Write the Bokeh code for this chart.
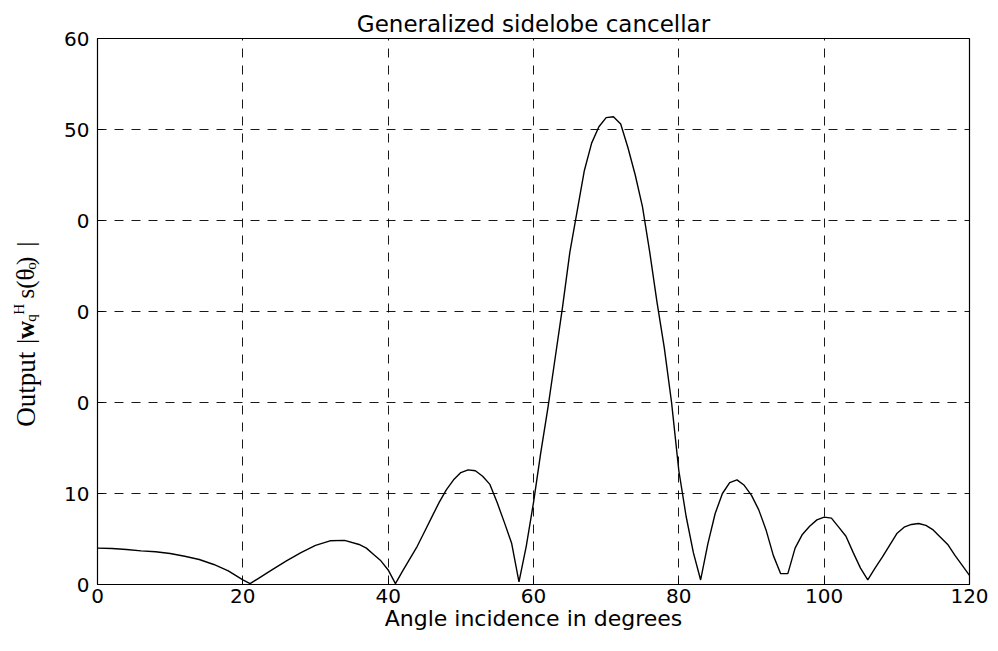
import math
from bokeh.plotting import figure
from bokeh.layouts import row
from bokeh.models import Label, FixedTicker, Range1d
from bokeh.embed import file_html
from bokeh.resources import INLINE

# ---- data ----
angle_deg = [0, 2, 4, 6, 8, 10, 12, 14, 16, 18, 19, 20, 21, 22, 24, 26, 28, 30,
             32, 34, 36, 37, 38, 39, 40, 41, 42, 44, 45, 46, 47, 48, 49, 50, 51,
             52, 53, 54, 55, 56, 57, 58, 59, 60, 61, 62, 63, 64, 65, 66, 67, 68,
             69, 70, 71, 72, 73, 74, 75, 76, 77, 78, 79, 80, 81, 82, 83, 84, 85,
             86, 87, 88, 89, 90, 91, 92, 93, 94, 95, 96, 97, 98, 99, 100, 101,
             102, 103, 104, 105, 106, 107, 108, 109, 110, 111, 112, 113, 114,
             115, 116, 117, 118, 119, 120]
output_mag = [4.0, 3.95, 3.85, 3.7, 3.6, 3.4, 3.1, 2.75, 2.2, 1.5, 1.0, 0.5, 0.1,
              0.6, 1.6, 2.6, 3.5, 4.3, 4.8, 4.85, 4.4, 4.0, 3.3, 2.6, 1.6, 0.1,
              1.5, 4.2, 5.8, 7.4, 9.0, 10.4, 11.5, 12.3, 12.6, 12.5, 11.9, 11.0,
              9.0, 6.8, 4.5, 0.3, 4.2, 9.0, 14.5, 19.5, 25.0, 30.5, 36.5, 41.0,
              45.5, 48.5, 50.3, 51.3, 51.4, 50.6, 48.0, 45.0, 41.5, 36.5, 31.0,
              26.0, 20.0, 12.5, 7.5, 3.5, 0.5, 4.5, 7.8, 10.0, 11.2, 11.5, 10.9,
              9.8, 8.2, 6.0, 3.2, 1.2, 1.2, 4.0, 5.5, 6.4, 7.1, 7.4, 7.3, 6.3,
              5.3, 3.5, 1.8, 0.5, 1.8, 3.0, 4.3, 5.6, 6.3, 6.6, 6.7, 6.5, 6.0,
              5.2, 4.4, 3.2, 2.1, 1.0]

x_ticks = [0, 20, 40, 60, 80, 100, 120]
x_tick_labels = ["0", "20", "40", "60", "80", "100", "120"]
y_ticks = [0, 10, 20, 30, 40, 50, 60]
y_tick_labels = ["0", "10", "0", "0", "0", "50", "60"]

title_text = "Generalized sidelobe cancellar"
x_label = "Angle incidence in degrees"
# y-axis label, split into pieces: text and role (word / main / bold / sub / sup)
y_label_pieces = [("Output", "word"), ("|", "main"), ("w", "bold"),
                  ("q", "sub"), ("H", "sup"), ("s(θ", "main"),
                  ("o", "sub"), (")", "main"), ("|", "main")]

# ---- layout ----
TOTAL_W, H = 990, 635
LW = 50                      # width of the strip carrying the rotated y label
W = TOTAL_W - LW
FL, FR, FT, FB = 97 - LW, 21, 38, 51

# ---- strip with the composite, rotated y-axis label ----
lab = figure(width=LW, height=H, output_backend="svg", toolbar_location=None,
             x_range=Range1d(0, LW), y_range=Range1d(0, H),
             min_border=0, x_axis_location=None, y_axis_location=None)
lab.outline_line_color = None
lab.grid.visible = False
lab.background_fill_color = "white"
lab.border_fill_color = "white"

# centre of each piece, measured from the top of the canvas, along the label
centres = [408, 352, 339, 325, 315, 285, 264.5, 258.5, 239]
mid_x = {"word": 25, "main": 25, "bold": 25, "sub": 30.5, "sup": 18.5}
sizes = {"word": "27px", "main": "25px", "bold": "25px", "sub": "15px",
         "sup": "15px"}
for (txt, role), cy in zip(y_label_pieces, centres):
    lab.add_layout(Label(x=mid_x[role], y=H - cy, x_units="data", y_units="data",
                         text=txt, angle=math.pi / 2, text_align="center",
                         text_baseline="middle", text_font="Liberation Serif",
                         text_font_size=sizes[role],
                         text_font_style="bold" if role == "bold" else "normal",
                         text_color="black"))

# ---- main chart ----
p = figure(width=W, height=H, output_backend="svg", toolbar_location=None,
           x_range=Range1d(0, 120), y_range=Range1d(0, 60),
           min_border_left=FL, min_border_right=FR,
           min_border_top=FT, min_border_bottom=FB, title=title_text)

p.background_fill_color = "white"
p.border_fill_color = "white"
p.outline_line_color = "black"
p.outline_line_width = 1.2

p.title.text_font = "DejaVu Sans"
p.title.text_font_size = "23px"
p.title.text_font_style = "normal"
p.title.text_color = "black"
p.title.align = "center"
p.title.vertical_align = "top"
p.title.standoff = 0

for ax in (p.xaxis, p.yaxis):
    ax.major_label_text_font = "DejaVu Sans"
    ax.major_label_text_font_size = "20px"
    ax.major_label_text_color = "black"
    ax.major_tick_in = 6
    ax.major_tick_out = 0
    ax.minor_tick_line_color = None
    ax.axis_line_color = "black"
    ax.major_tick_line_color = "black"

p.xaxis.ticker = FixedTicker(ticks=x_ticks)
p.xaxis.major_label_overrides = dict(zip(x_ticks, x_tick_labels))
p.yaxis.ticker = FixedTicker(ticks=y_ticks)
p.yaxis.major_label_overrides = dict(zip(y_ticks, y_tick_labels))
p.xaxis.major_label_standoff = 4
p.yaxis.major_label_standoff = 8

p.xaxis.axis_label = x_label
p.xaxis.axis_label_text_font = "DejaVu Sans"
p.xaxis.axis_label_text_font_size = "22px"
p.xaxis.axis_label_text_font_style = "normal"
p.xaxis.axis_label_text_color = "black"
p.xaxis.axis_label_standoff = 0

for g in (p.xgrid, p.ygrid):
    g.grid_line_color = "black"
    g.grid_line_dash = "9 8"
    g.grid_line_width = 1
    g.grid_line_alpha = 0.9
p.xgrid.ticker = FixedTicker(ticks=x_ticks)
p.ygrid.ticker = FixedTicker(ticks=y_ticks)

p.line(angle_deg, output_mag, line_color="black", line_width=1.4)

layout = row(lab, p, spacing=0)
open("out.html", "w").write(file_html(layout, INLINE))
